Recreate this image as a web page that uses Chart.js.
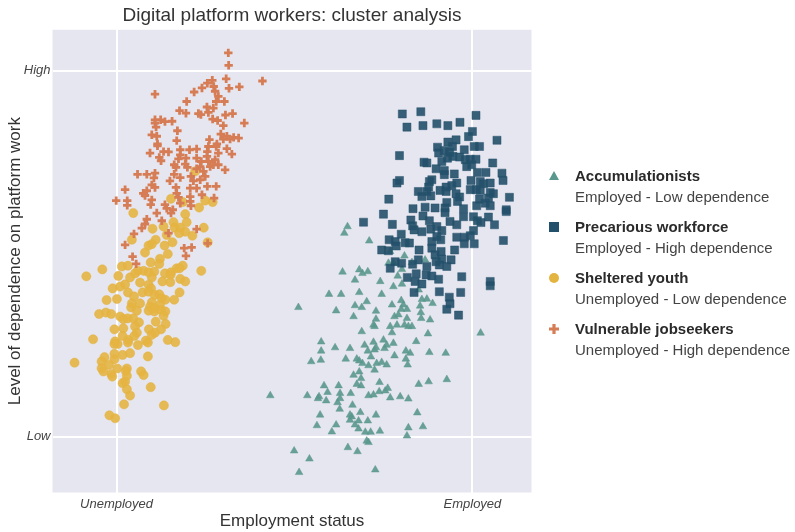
<!DOCTYPE html>
<html>
<head>
<meta charset="utf-8">
<script src="https://cdn.jsdelivr.net/npm/chart.js@4.4.0/dist/chart.umd.min.js"></script>
<style>
  body { margin: 0; background: #fff; font-family: "Liberation Sans", Arial, sans-serif; }
  #wrap { position: relative; width: 795px; height: 532px; }
  #legend { position: absolute; left: 575px; top: 165px; color: #333; font-size: 15px; }
  .item { position: relative; height: 42px; margin-bottom: 9px; line-height: 21px; white-space: nowrap; }
  .item b { color: #2b2b2b; }
  .item span { color: #444; }
  .item svg { position: absolute; left: -27px; top: 5px; }
</style>
</head>
<body>
<div id="wrap">
  <canvas id="scatterChart" width="795" height="532"></canvas>
  <div id="legend"></div>
</div>
<script>
// axis ticks: 0 = Unemployed / Low, 100 = Employed / High
const xTicks = [0, 100];
const xTickLabels = ["Unemployed", "Employed"];
const yTicks = [0, 100];
const yTickLabels = ["Low", "High"];

const clusterNames = ["Accumulationists", "Precarious workforce", "Sheltered youth", "Vulnerable jobseekers"];
const clusterSubtitles = ["Employed - Low dependence", "Employed - High dependence", "Unemployed - Low dependence", "Unemployed - High dependence"];
const clusterColors = ["#5a978d", "#23506a", "#e4b441", "#d67d55"];

// [employment status score, dependence score]
const accumulationists = [
  [64.9,57.4],[64.0,55.6],[71.0,53.5],[76.9,50.6],[80.9,49.4],[63.5,45.0],[68.2,45.6],[69.1,44.6],[70.6,45.1],[67.0,42.8],
  [74.1,42.4],[76.4,47.4],[77.8,47.4],[80.2,45.7],[83.0,47.6],[86.7,48.3],[79.0,43.9],[77.8,41.0],[80.2,41.7],[59.7,38.9],
  [63.1,38.9],[68.2,39.4],[74.5,38.9],[84.9,40.1],[51.1,35.3],[61.7,34.4],[67.0,35.8],[68.9,35.3],[70.3,36.9],[72.9,34.3],
  [66.6,32.8],[77.4,36.0],[80.0,37.2],[80.6,36.0],[80.0,34.8],[81.6,34.8],[85.8,37.5],[87.2,37.6],[88.8,36.4],[85.3,35.7],
  [85.5,33.9],[85.6,32.3],[88.1,31.9],[78.1,32.8],[79.2,33.3],[81.6,32.3],[72.9,32.1],[72.2,30.5],[72.5,30.1],[76.9,30.1],
  [78.8,30.5],[80.9,30.5],[82.0,30.1],[83.0,30.1],[77.4,28.4],[68.9,28.7],[87.5,28.1],[102.3,28.3],
  [57.5,25.9],[57.5,23.4],[57.4,20.9],[54.7,20.5],[61.4,24.3],[65.6,24.1],[64.4,21.2],[69.7,25.0],[72.2,25.8],[70.6,23.4],
  [72.5,23.7],[72.9,24.3],[75.0,26.4],[75.3,24.1],[77.8,25.5],[75.9,25.0],[84.2,26.0],[81.3,23.4],[82.5,22.8],[87.9,23.0],
  [92.5,22.8],[78.1,22.1],[81.3,21.2],[81.8,19.6],[67.5,21.2],[68.2,20.7],[69.1,20.0],[70.8,19.4],[71.5,21.8],[73.1,20.0],
  [74.5,20.3],[75.9,19.6],[72.5,18.2],[66.6,16.8],[68.2,17.7],[68.7,15.9],[67.5,14.3],[68.7,13.9],[73.9,14.8],[58.3,13.9],
  [62.4,13.9],[84.9,14.3],[87.7,15.0],[92.8,15.6],[43.2,11.2],[53.6,11.2],[56.9,10.9],[56.6,10.4],[59.3,12.1],[58.9,9.8],
  [62.8,11.8],[62.8,10.4],[62.1,9.3],[62.7,7.5],[65.8,11.8],[66.3,8.6],[70.8,11.2],[72.2,11.4],[73.8,12.3],[75.5,12.5],
  [76.2,13.2],[76.9,10.6],[79.7,10.9],[82.0,10.3],[57.2,5.9],[65.6,5.9],[66.1,5.4],[68.5,6.6],[65.6,4.5],[68.0,4.3],
  [70.6,4.3],[72.9,5.9],[67.0,3.2],[68.0,2.1],[56.3,3.0],[61.7,3.2],[60.5,1.3],[69.9,1.2],[71.4,1.2],[74.0,1.5],
  [84.5,6.5],[82.0,2.4],[86.1,2.7],[81.6,0.2],[70.3,-1.2],[70.8,-1.6],[65.0,-3.0],[67.7,-4.1],[49.9,-3.9],[54.2,-6.1],
  [51.3,-9.8],[72.7,-9.1]
];

const precarious = [
  [80.3,88.2],[85.5,88.8],[81.6,84.6],[86.1,85.0],[90.0,85.5],[93.1,85.0],[96.5,85.9],[101.0,87.8],[100.0,83.4],[98.9,82.0],
  [106.9,81.0],[95.4,81.1],[93.1,80.5],[94.4,79.3],[90.2,79.1],[90.5,77.5],[92.1,78.2],[93.6,77.7],[97.7,78.4],[100.5,79.3],
  [102.0,79.3],[79.5,76.8],[86.4,75.0],[87.2,74.8],[91.4,75.2],[93.0,76.1],[94.5,76.6],[96.4,76.4],[98.0,75.7],[99.4,75.8],
  [101.0,75.8],[98.4,73.8],[99.8,74.3],[105.7,74.8],[89.8,73.2],[92.1,72.7],[92.1,71.6],[94.9,71.8],[101.4,72.2],[103.8,72.2],
  [108.3,72.0],[88.6,70.2],[87.9,69.7],[79.5,70.0],[78.8,69.3],[95.6,69.3],[99.6,70.0],[102.2,69.7],[103.1,69.1],[105.0,69.3],
  [108.6,70.0],[87.7,68.2],[92.6,68.2],[94.2,68.6],[84.8,67.0],[87.2,67.0],[90.9,67.3],[92.6,67.0],[99.4,67.5],[101.1,67.5],
  [102.2,67.3],[95.4,66.4],[105.0,66.7],[105.9,66.4],[85.8,65.6],[88.3,65.8],[96.4,65.5],[102.0,64.9],[104.5,65.2],[110.4,65.4],
  [76.5,64.9],[92.8,64.0],[95.8,64.3],[103.6,63.8],[101.2,63.1],[83.3,62.3],[86.7,62.7],[89.5,62.5],[92.3,62.5],[97.5,62.3],
  [105.0,63.1],[109.5,62.0],
  [75.0,60.8],[92.3,61.2],[97.5,60.1],[100.3,60.1],[101.4,59.0],[102.4,58.5],[104.5,60.0],[109.5,61.5],[106.2,57.9],[77.5,58.0],
  [82.7,59.2],[86.1,60.3],[87.9,59.0],[83.2,57.6],[83.6,56.5],[85.8,56.0],[88.3,56.7],[90.0,57.4],[91.4,56.3],[93.7,58.8],
  [95.6,57.9],[100.3,56.3],[99.4,54.9],[97.7,54.5],[95.6,54.5],[97.7,52.7],[100.5,52.7],[108.7,53.6],[80.0,55.3],[76.6,53.8],
  [78.3,53.3],[81.1,53.0],[78.6,52.1],[82.3,52.9],[88.6,53.3],[90.0,54.7],[91.1,53.8],[88.6,51.5],[74.5,51.0],[76.4,50.8],
  [85.0,51.0],[91.2,50.6],[95.0,51.0],[89.5,49.7],[91.4,48.5],[89.8,47.8],[84.8,48.3],[83.2,47.1],[78.3,47.8],[80.1,47.4],
  [76.9,46.0],[94.0,48.3],[92.8,46.5],[90.7,46.9],[87.2,46.5],[84.2,44.5],[81.7,43.5],[87.0,44.2],[88.6,43.9],[90.5,43.0],
  [83.9,42.4],[85.8,41.7],[97.0,43.7],[105.0,42.4],[105.0,41.2],[83.6,39.4],[90.7,39.6],[96.7,39.4],[93.5,38.1],[93.7,36.3],
  [92.8,34.8],[96.1,33.2],[69.4,58.6]
];

const shelteredYouth = [
  [22.1,72.5],
  [15.3,65.0],[18.6,64.1],[24.9,64.5],[27.0,64.1],[23.2,62.6],[19.3,60.8],[19.7,58.6],[4.7,61.1],[16.0,58.6],[13.2,57.4],
  [16.3,57.1],[17.9,57.1],[10.1,56.8],[24.5,57.1],[19.3,56.0],[17.6,55.6],[21.3,54.9],[14.1,55.1],[11.0,53.8],[9.9,52.6],
  [9.0,52.2],[4.3,53.8],[13.5,52.2],[15.7,53.1],[25.6,53.1],[8.0,50.3],[14.4,49.9],[12.2,48.6],[12.0,47.2],[9.6,47.6],
  [1.5,46.5],[3.2,46.7],[-4.0,45.7],[-8.5,43.8],[0.5,43.9],[6.0,45.3],[5.2,44.6],[7.6,45.3],[9.0,44.9],[10.6,45.1],
  [13.6,44.6],[15.3,44.9],[16.9,46.0],[18.6,46.7],[17.7,46.0],[23.8,45.3],[9.9,43.5],[15.2,44.2],[3.8,43.5],[6.6,42.1],
  [9.0,41.5],[9.7,40.5],[12.9,42.4],[15.1,42.2],[17.9,43.1],[19.3,42.4],[2.4,41.6],[1.0,41.0],[-1.1,40.5],[3.2,39.4],
  [4.9,38.3],[7.3,39.4],[9.0,39.6],[10.7,38.7],[12.0,38.9],[12.7,37.8],[17.7,39.4],[13.7,37.4],[16.2,37.4],[-2.8,37.3],
  [0.1,37.6],[4.3,36.4],[6.6,36.4],[9.9,36.7],
  [-4.9,33.5],[-3.0,33.9],[-1.5,33.5],[1.0,32.8],[1.9,32.1],[3.1,32.3],[4.7,32.3],[4.1,35.3],[5.7,34.4],[9.4,35.5],
  [10.8,35.1],[12.2,36.0],[9.0,34.4],[10.6,34.2],[12.5,34.6],[13.7,34.2],[13.2,33.0],[6.3,31.2],[5.2,30.1],[11.0,31.4],
  [13.8,30.8],[-0.6,29.3],[1.9,29.6],[5.7,28.4],[5.0,27.5],[9.1,29.3],[10.8,28.4],[9.9,27.8],[12.5,29.3],[1.7,27.5],
  [3.3,26.4],[-6.6,26.6],[-0.4,26.0],[0.3,25.3],[-0.6,25.3],[3.2,25.7],[6.0,25.0],[8.2,26.2],[8.8,25.7],[14.4,26.4],
  [16.5,25.8],[-11.8,20.2],[-0.6,22.6],[-0.6,21.1],[-3.4,21.7],[-4.2,20.5],[-2.1,19.6],[1.7,22.3],[3.8,22.8],[8.8,21.9],
  [-4.2,18.7],[-3.7,17.8],[-1.5,17.1],[-1.2,16.4],[0.2,18.6],[2.9,18.6],[2.6,17.9],[2.9,16.6],[2.4,15.0],[1.7,14.6],
  [6.9,17.8],[7.6,16.8],[2.9,12.9],[3.8,11.2],[9.6,13.5],[2.1,8.8],[13.3,8.5],[-2.0,5.8],[-0.4,5.0]
];

const vulnerableJobseekers = [
  [31.4,104.9],[31.5,101.5],[30.8,97.8],[41.0,97.2],[10.8,93.6],[26.9,97.4],[25.5,96.6],[24.0,95.3],[21.8,94.2],[27.3,95.7],
  [27.7,94.4],[31.6,95.2],[34.5,95.6],[28.6,93.0],[28.0,91.6],[30.3,91.6],[19.7,91.6],[27.2,89.8],[25.4,90.1],[17.7,89.1],
  [19.5,88.4],[23.0,88.3],[23.7,88.0],[25.8,88.6],[30.6,87.9],[32.6,88.3],[35.9,85.7],[27.0,86.8],[28.4,86.4],[30.0,85.0],
  [10.8,86.6],[12.4,86.6],[13.6,86.1],[15.6,86.2],[10.8,85.7],[11.1,84.6],[17.1,83.6],[9.9,82.5],[11.3,82.1],[16.9,80.9],
  [11.5,80.0],[26.1,81.2],[29.3,82.7],[31.0,82.1],[30.0,81.3],[32.9,81.8],[34.3,81.6],[31.9,81.3],[28.2,80.0],
  [11.5,79.5],[9.4,77.5],[13.2,77.9],[14.6,77.8],[12.0,76.3],[12.5,75.4],[17.9,78.4],[20.5,78.4],[22.5,78.6],[25.8,79.3],
  [25.5,77.9],[28.0,79.3],[31.0,78.7],[28.6,77.5],[32.4,77.2],[17.9,77.0],[19.5,76.1],[17.4,75.9],[22.5,76.1],[25.4,76.6],
  [23.8,75.2],[25.8,75.2],[27.7,75.7],[16.2,74.3],[19.3,74.5],[16.7,73.6],[19.9,73.6],[23.5,73.8],[26.3,73.8],[27.2,74.3],
  [28.6,74.3],[30.5,72.9],[22.5,73.2],[5.9,71.7],[8.5,71.7],[10.8,72.0],[10.5,70.7],[16.2,71.7],[17.9,70.8],[24.4,72.5],
  [24.9,71.1],[20.9,71.1],[21.6,69.9],[23.5,70.2],[15.0,69.9],[9.9,68.8],[10.8,68.1],[20.7,67.9],[22.5,67.9],[25.5,68.4],
  [28.0,68.4],[16.7,68.1],[2.4,67.5],[7.5,66.5],[8.5,67.2],[8.0,65.9],[16.9,66.5],[17.4,65.4],[24.0,66.1],[27.4,65.2],
  [-0.1,64.5],[3.0,64.5],[3.0,63.2],[9.9,64.7],[9.6,63.4],[13.6,63.4],[14.1,62.4],[15.8,62.0],[15.3,61.1],[17.9,63.8],
  [20.7,65.6],[20.7,64.3],[20.9,63.1],[11.3,61.1],[12.7,59.0],[8.5,59.4],[8.0,58.1],[7.1,57.0],[4.9,55.4],[22.5,56.7],
  [14.6,55.6],
  [2.4,52.4],[4.5,49.2],[5.5,47.2],[19.0,51.5],[21.1,51.7],[19.5,49.4],[25.6,52.8]
];

const seriesData = [accumulationists, precarious, shelteredYouth, vulnerableJobseekers];
const pointStyles = ["triangle", "rect", "circle", "cross"];
const pointSizes = [4.4, 5.7, 4.6, 4.2];

const fontFamily = '"Liberation Sans", Arial, sans-serif';

const panelBackground = {
  id: 'panelBackground',
  beforeDraw(chart) {
    const { ctx, chartArea: a } = chart;
    ctx.save();
    ctx.fillStyle = '#e6e6f0';
    ctx.fillRect(a.left, a.top, a.right - a.left, a.bottom - a.top);
    ctx.restore();
  }
};

const datasets = seriesData.map((pts, i) => ({
  label: clusterNames[i],
  data: pts.map(p => ({ x: p[0], y: p[1] })),
  pointStyle: pointStyles[i],
  pointRadius: pointSizes[i],
  backgroundColor: clusterColors[i] + 'e6',
  borderColor: i === 3 ? clusterColors[i] : clusterColors[i] + '99',
  borderWidth: i === 3 ? 2.8 : 0.8,
  order: 4 - i
}));

new Chart(document.getElementById('scatterChart'), {
  type: 'scatter',
  data: { datasets: datasets },
  plugins: [panelBackground],
  options: {
    responsive: false,
    animation: false,
    devicePixelRatio: 1,
    layout: { padding: { right: 263.5, left: 0, top: 0, bottom: 0 } },
    plugins: {
      legend: { display: false },
      tooltip: { enabled: false },
      title: {
        display: true,
        text: 'Digital platform workers: cluster analysis',
        fullSize: false,
        color: '#333',
        font: { family: fontFamily, size: 19, weight: 'normal' },
        padding: { top: 4, bottom: 3 }
      }
    },
    scales: {
      x: {
        type: 'linear',
        min: -18,
        max: 116.6,
        afterBuildTicks: s => { s.ticks = xTicks.map(v => ({ value: v })); },
        afterFit: s => { s.height = 39.5; },
        ticks: {
          padding: 4,
          color: '#444',
          font: { family: fontFamily, size: 13, style: 'italic' },
          callback: v => xTickLabels[xTicks.indexOf(v)]
        },
        grid: { color: '#ffffff', lineWidth: 2, drawTicks: false },
        border: { display: false },
        title: {
          display: true,
          text: 'Employment status',
          color: '#333',
          font: { family: fontFamily, size: 17 },
          padding: { top: 0, bottom: 0 }
        }
      },
      y: {
        type: 'linear',
        min: -15.3,
        max: 111.2,
        afterBuildTicks: s => { s.ticks = yTicks.map(v => ({ value: v })); },
        afterFit: s => { s.width = 52.5; },
        ticks: {
          padding: 2,
          color: '#444',
          font: { family: fontFamily, size: 13, style: 'italic' },
          callback: v => yTickLabels[yTicks.indexOf(v)]
        },
        grid: { color: '#ffffff', lineWidth: 2, drawTicks: false },
        border: { display: false },
        title: {
          display: true,
          text: 'Level of dependence on platform work',
          color: '#333',
          font: { family: fontFamily, size: 17 },
          padding: { top: 5, bottom: 0 }
        }
      }
    }
  }
});

// legend with a bold name and a subtitle line per cluster
const markerSvg = [
  '<svg width="12" height="12"><polygon points="6,1 11,10 1,10" fill="' + clusterColors[0] + '"/></svg>',
  '<svg width="12" height="12"><rect x="1" y="1" width="10" height="10" fill="' + clusterColors[1] + '"/></svg>',
  '<svg width="12" height="12"><circle cx="6" cy="6" r="5" fill="' + clusterColors[2] + '"/></svg>',
  '<svg width="12" height="12"><path d="M6 1V11M1 6H11" stroke="' + clusterColors[3] + '" stroke-width="3.2"/></svg>'
];
document.getElementById('legend').innerHTML = clusterNames.map((name, i) =>
  '<div class="item">' + markerSvg[i] + '<b>' + name + '</b><br><span>' + clusterSubtitles[i] + '</span></div>'
).join('');
</script>
</body>
</html>
